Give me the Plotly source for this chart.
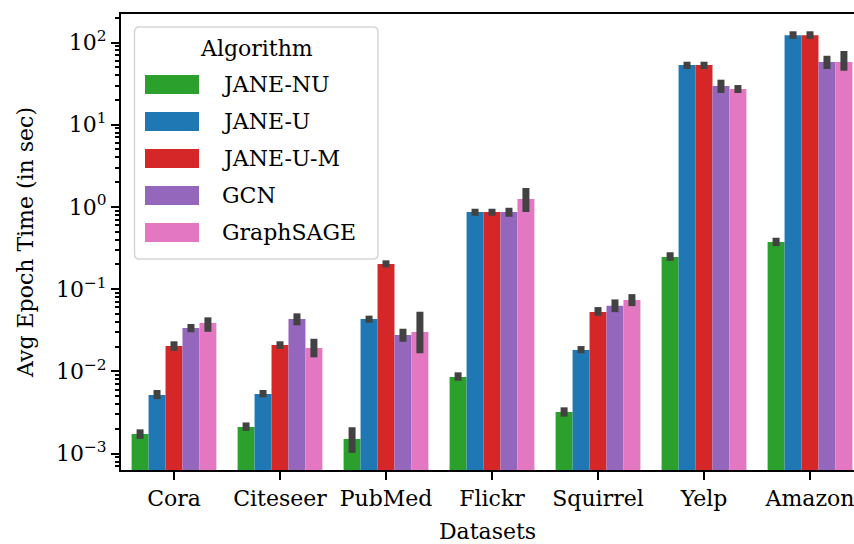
import plotly.graph_objects as go

datasets = ["Cora", "Citeseer", "PubMed", "Flickr", "Squirrel", "Yelp", "Amazon"]
algorithms = ["JANE-NU", "JANE-U", "JANE-U-M", "GCN", "GraphSAGE"]
colors = ["#2ca02c", "#1f77b4", "#d62728", "#9467bd", "#e377c2"]

y_tickvals = [1e-3, 1e-2, 1e-1, 1e0, 1e1, 1e2]
y_ticktext = ["10<sup>\u22123</sup>", "10<sup>\u22122</sup>", "10<sup>\u22121</sup>",
              "10<sup>0</sup>", "10<sup>1</sup>", "10<sup>2</sup>"]

jane_nu = [0.00173, 0.00210, 0.00150, 0.00853, 0.00320, 0.246, 0.374]
jane_nu_lo = [0.00151, 0.00189, 0.00102, 0.00769, 0.00281, 0.221, 0.334]
jane_nu_hi = [0.00197, 0.00239, 0.00209, 0.00973, 0.00365, 0.281, 0.422]

jane_u = [0.00515, 0.00530, 0.0433, 0.867, 0.0182, 53.2, 123]
jane_u_lo = [0.00460, 0.00483, 0.0390, 0.782, 0.0166, 47.6, 111]
jane_u_hi = [0.00593, 0.00593, 0.0476, 0.951, 0.0203, 58.4, 137]

jane_u_m = [0.0203, 0.0209, 0.202, 0.867, 0.0526, 53.2, 123]
jane_u_m_lo = [0.0178, 0.0188, 0.184, 0.782, 0.0474, 47.6, 111]
jane_u_m_hi = [0.0232, 0.0232, 0.224, 0.951, 0.0605, 58.4, 137]

gcn = [0.0337, 0.0433, 0.0277, 0.867, 0.0628, 29.6, 57.9]
gcn_lo = [0.0299, 0.0363, 0.0229, 0.760, 0.0525, 24.3, 47.6]
gcn_hi = [0.0377, 0.0508, 0.0330, 0.977, 0.0750, 35.3, 69.0]

sage = [0.0387, 0.0192, 0.0301, 1.25, 0.0736, 27.2, 57.9]
sage_lo = [0.0303, 0.0148, 0.0166, 0.867, 0.0622, 24.3, 45.4]
sage_hi = [0.0454, 0.0249, 0.0531, 1.70, 0.0870, 30.4, 78.9]

series = [
    (jane_nu, jane_nu_lo, jane_nu_hi),
    (jane_u, jane_u_lo, jane_u_hi),
    (jane_u_m, jane_u_m_lo, jane_u_m_hi),
    (gcn, gcn_lo, gcn_hi),
    (sage, sage_lo, sage_hi),
]

FONT = "DejaVu Serif"
W, H = 854, 544
ML, MR, MT, MB = 121, 0, 14, 74

fig = go.Figure()
for name, color, (vals, lo, hi) in zip(algorithms, colors, series):
    fig.add_trace(go.Bar(
        x=datasets, y=vals, name=name,
        marker=dict(color=color, line=dict(width=0)),
        error_y=dict(type="data", symmetric=False,
                     array=[h - v for h, v in zip(hi, vals)],
                     arrayminus=[v - l for v, l in zip(vals, lo)],
                     color="#424242", thickness=7, width=0),
        showlegend=False,
    ))

# custom legend (matplotlib-like) in pixel -> paper coords
pw, ph = W - ML - MR, H - MT - MB
def px(x):
    return (x - ML) / pw
def py(y):
    return (H - MB - y) / ph

shapes = []
x0, x1, y0, y1, r = 134.5, 378, 27, 259, 5
path = (f"M {px(x0 + r)},{py(y0)} L {px(x1 - r)},{py(y0)} "
        f"Q {px(x1)},{py(y0)} {px(x1)},{py(y0 + r)} "
        f"L {px(x1)},{py(y1 - r)} Q {px(x1)},{py(y1)} {px(x1 - r)},{py(y1)} "
        f"L {px(x0 + r)},{py(y1)} Q {px(x0)},{py(y1)} {px(x0)},{py(y1 - r)} "
        f"L {px(x0)},{py(y0 + r)} Q {px(x0)},{py(y0)} {px(x0 + r)},{py(y0)} Z")
shapes.append(dict(type="path", xref="paper", yref="paper", path=path,
                   fillcolor="rgba(255,255,255,0.85)",
                   line=dict(color="#d6d6d6", width=1.5), layer="above"))
annotations = [dict(text="Algorithm", xref="paper", yref="paper",
                    x=px(256.5), y=py(49), showarrow=False,
                    xanchor="center", yanchor="middle",
                    font=dict(family=FONT, size=22, color="black"))]
for i, (name, color) in enumerate(zip(algorithms, colors)):
    cy = 84.5 + i * 37
    shapes.append(dict(type="rect", xref="paper", yref="paper",
                       x0=px(145), x1=px(199), y0=py(cy - 9.5), y1=py(cy + 9.5),
                       fillcolor=color, line=dict(width=0), layer="above"))
    annotations.append(dict(text=name, xref="paper", yref="paper",
                            x=px(220), y=py(cy), showarrow=False,
                            xanchor="left", yanchor="middle",
                            font=dict(family=FONT, size=22, color="black")))

fig.update_layout(
    width=W, height=H,
    margin=dict(l=ML, r=MR, t=MT, b=MB, pad=0, autoexpand=False),
    paper_bgcolor="white", plot_bgcolor="white",
    barmode="group", bargap=0.2, bargroupgap=0,
    font=dict(family=FONT, size=22, color="black"),
    shapes=shapes, annotations=annotations,
    xaxis=dict(
        range=[-0.5, 6.415], showgrid=False, automargin=False,
        showline=True, linecolor="black", linewidth=2, mirror=True,
        ticks="outside", ticklen=8, tickwidth=2, tickcolor="black",
        tickfont=dict(family=FONT, size=22),
        title=dict(text="Datasets", font=dict(family=FONT, size=22), standoff=14),
    ),
    yaxis=dict(
        type="log", range=[-3.20, 2.347], showgrid=False, automargin=False,
        showline=True, linecolor="black", linewidth=2,
        tickvals=y_tickvals, ticktext=y_ticktext,
        ticks="outside", ticklen=8, tickwidth=2, tickcolor="black",
        minor=dict(ticks="outside", ticklen=4, tickwidth=1.5, tickcolor="black", dtick="D1"),
        tickfont=dict(family=FONT, size=22),
        title=dict(text="Avg Epoch Time (in sec)", font=dict(family=FONT, size=22), standoff=16),
        zeroline=False,
    ),
)

fig.write_html("out.html",
               config={"displayModeBar": False},
               post_script="document.body.style.margin='0';document.body.style.padding='0';"
                           "document.documentElement.style.overflow='hidden';")
